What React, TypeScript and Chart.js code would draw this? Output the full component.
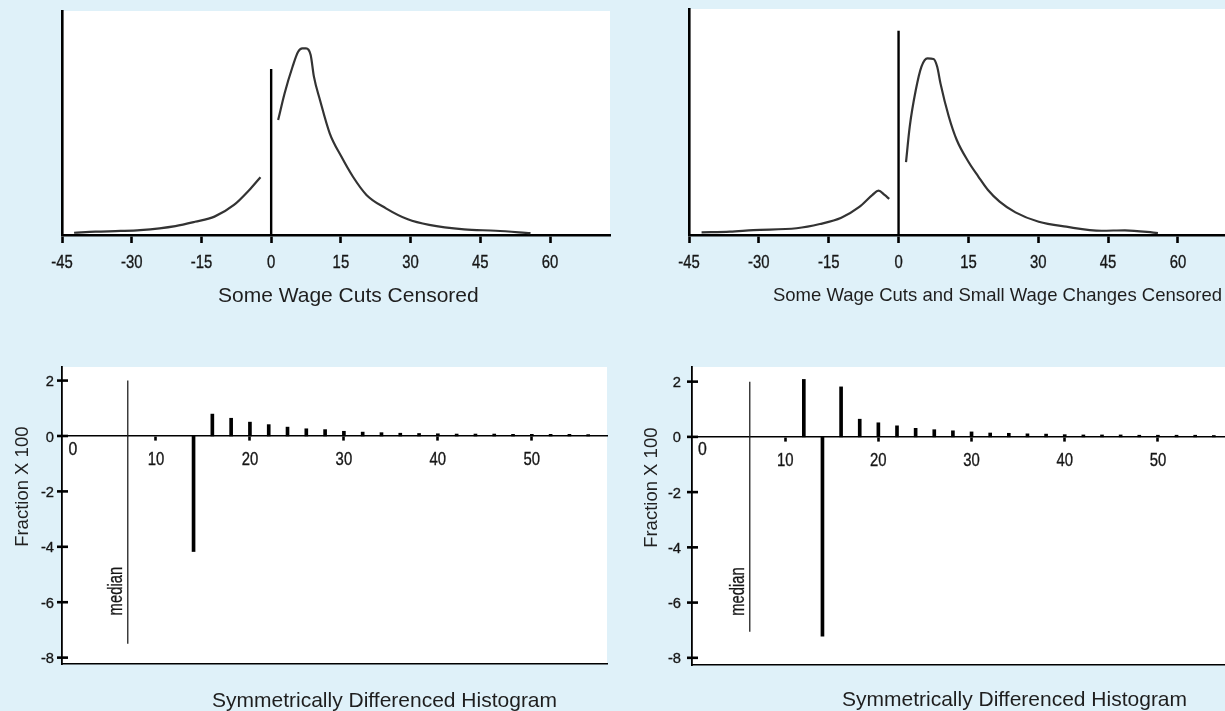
import React, { useEffect, useRef } from "react";
import { Chart, registerables } from "chart.js";

Chart.register(...registerables);

// ---------------- data ----------------
const topTickLabels = [-45, -30, -15, 0, 15, 30, 45, 60];
const bottomTickLabels = [10, 20, 30, 40, 50];
const bottomYTicks = [-8, -6, -4, -2, 0, 2];

// Panel A: Some Wage Cuts Censored (density, arbitrary units)
const cutsLeftX = [-42.4, -37.8, -32.4, -28.2, -20.6, -16.4, -12.2, -8.0, -4.7, -2.3];
const cutsLeftY = [0.1, 0.15, 0.18, 0.22, 0.4, 0.59, 0.82, 1.34, 2.01, 2.58];
const cutsRightX = [1.5, 2.9, 4.6, 5.8, 6.7, 7.5, 8.5, 9.2, 10.5, 12.6, 15.1, 17.6, 20.5, 24.7, 29.4, 34.0, 41.5, 48.3, 55.8];
const cutsRightY = [5.13, 6.33, 7.51, 8.18, 8.33, 8.33, 8.04, 7.07, 6.03, 4.54, 3.5, 2.6, 1.79, 1.19, 0.7, 0.45, 0.25, 0.19, 0.08];
const cutsZeroLineTop = 7.41;

// Panel B: Some Wage Cuts and Small Wage Changes Censored
const smallLeftX = [-42.3, -36.2, -31.2, -21.9, -16.9, -12.3, -8.5, -5.6, -4.3, -3.0, -2.0];
const smallLeftY = [0.12, 0.15, 0.22, 0.3, 0.49, 0.77, 1.24, 1.79, 1.98, 1.79, 1.61];
const smallRightX = [1.6, 2.4, 3.7, 4.9, 6.2, 7.5, 8.3, 9.0, 10.8, 12.5, 15.0, 17.1, 19.2, 21.7, 25.1, 30.1, 36.0, 43.6, 48.6, 55.7];
const smallRightY = [3.25, 4.84, 6.47, 7.51, 7.89, 7.86, 7.51, 6.77, 5.28, 4.24, 3.27, 2.62, 2.01, 1.49, 1.01, 0.59, 0.37, 0.19, 0.21, 0.09];
const smallZeroLineTop = 9.12;

// Panel C / D: Symmetrically differenced histograms (Fraction x 100)
const diffLeftX = [14, 16, 18, 20, 22, 24, 26, 28, 30, 32, 34, 36, 38, 40, 42, 44, 46, 48, 50, 52, 54, 56];
const diffLeftY = [-4.17, 0.79, 0.64, 0.5, 0.41, 0.32, 0.26, 0.23, 0.17, 0.14, 0.12, 0.1, 0.09, 0.08, 0.07, 0.07, 0.07, 0.06, 0.06, 0.06, 0.06, 0.05];
const medianLeft = 7.0;
const medianLeftSpan = [2.0, -7.5];

const diffRightX = [12, 14, 16, 18, 20, 22, 24, 26, 28, 30, 32, 34, 36, 38, 40, 42, 44, 46, 48, 50, 52, 54, 56];
const diffRightY = [2.08, -7.22, 1.81, 0.64, 0.51, 0.4, 0.31, 0.26, 0.22, 0.18, 0.14, 0.13, 0.11, 0.1, 0.08, 0.07, 0.07, 0.07, 0.06, 0.06, 0.06, 0.06, 0.05];
const medianRight = 6.2;
const medianRightSpan = [2.0, -7.06];

// ---------------- styling helpers ----------------
const SANS = "'Liberation Sans', Arial, Helvetica, sans-serif";
const BG = "#dff1f9";
const INK = "#161616";

const toPts = (xs: number[], ys: number[]) => xs.map((x, i) => ({ x, y: ys[i] }));

const whiteArea = {
  id: "whiteArea",
  beforeDraw(chart: any) {
    const { ctx, chartArea: a } = chart;
    ctx.save();
    ctx.fillStyle = "#ffffff";
    ctx.fillRect(a.left, a.top, a.right - a.left, a.bottom - a.top);
    ctx.restore();
  },
};

function drawSqueezed(ctx: any, text: string, x: number, y: number, opt: any) {
  ctx.save();
  ctx.translate(x, y);
  ctx.rotate(((opt.rotation || 0) * Math.PI) / 180);
  ctx.scale(opt.sx || 1, 1);
  ctx.font = opt.font;
  ctx.fillStyle = opt.color || INK;
  ctx.textAlign = opt.align || "center";
  ctx.textBaseline = opt.baseline || "alphabetic";
  ctx.fillText(text, 0, 0);
  if (opt.stroke) {
    ctx.strokeStyle = opt.color || INK;
    ctx.lineWidth = opt.stroke;
    ctx.strokeText(text, 0, 0);
  }
  ctx.restore();
}

// draws tick labels (from the scales' own ticks) in a condensed face
const condensedTicks = {
  id: "condensedTicks",
  afterDraw(chart: any, _args: any, opts: any) {
    const { ctx, scales } = chart;
    for (const spec of (opts && opts.axes) || []) {
      const s = scales[spec.id];
      if (!s) continue;
      for (const t of s.ticks) {
        const label = String(t.value);
        let x: number;
        let y: number;
        if (s.axis === "x") {
          const base = spec.atZero ? scales.y.getPixelForValue(0) : s.top;
          x = s.getPixelForValue(t.value);
          y = base + spec.baseline;
        } else {
          const py = s.getPixelForValue(t.value);
          x = s.right - spec.gap;
          y = py + spec.baseline;
          if (spec.cross) {
            ctx.save();
            ctx.strokeStyle = "#000";
            ctx.lineWidth = spec.cross.width;
            ctx.beginPath();
            ctx.moveTo(s.right - spec.cross.out, py);
            ctx.lineTo(s.right + spec.cross.inn, py);
            ctx.stroke();
            ctx.restore();
          }
        }
        drawSqueezed(ctx, label, x, y, spec);
      }
    }
  },
};

const textLabels = {
  id: "textLabels",
  afterDraw(chart: any, _args: any, opts: any) {
    const items = (opts && opts.items) || [];
    const { ctx, scales, chartArea } = chart;
    for (const it of items) {
      let x = it.xValue !== undefined ? scales.x.getPixelForValue(it.xValue) : chartArea.left;
      let y = it.yValue !== undefined ? scales.y.getPixelForValue(it.yValue) : chartArea.top;
      drawSqueezed(ctx, it.text, x + (it.dx || 0), y + (it.dy || 0), it);
    }
  },
};

const numFont = `18.6px ${SANS}`;

function densityConfig(p: {
  leftX: number[]; leftY: number[]; rightX: number[]; rightY: number[];
  zeroTop: number; yMax: number; xMax: number; yWidth: number; padTop: number; padRight: number; xHeight: number;
}) {
  const curve = (xs: number[], ys: number[]) => ({
    data: toPts(xs, ys),
    borderColor: "#333333",
    borderWidth: 2.2,
    pointRadius: 0,
    tension: 0.35,
    cubicInterpolationMode: "monotone",
    fill: false,
  });
  return {
    type: "line",
    data: {
      datasets: [
        curve(p.leftX, p.leftY),
        curve(p.rightX, p.rightY),
        {
          data: [{ x: 0, y: 0 }, { x: 0, y: p.zeroTop }],
          borderColor: "#000",
          borderWidth: 2.4,
          pointRadius: 0,
          tension: 0,
          fill: false,
        },
      ],
    },
    options: {
      animation: false,
      responsive: false,
      events: [],
      layout: { padding: { top: p.padTop, right: p.padRight, left: 0, bottom: 0 } },
      plugins: {
        legend: { display: false },
        tooltip: { enabled: false },
        condensedTicks: {
          axes: [{ id: "x", baseline: 32.7, align: "center", font: numFont, sx: 0.8, stroke: 0.35 }],
        },
      },
      scales: {
        x: {
          type: "linear",
          min: -45,
          max: p.xMax,
          afterBuildTicks: (s: any) => {
            s.ticks = topTickLabels.map((v) => ({ value: v }));
          },
          afterFit: (s: any) => {
            s.height = p.xHeight;
          },
          ticks: { display: false },
          grid: { display: true, drawOnChartArea: false, drawTicks: true, tickLength: 8, tickWidth: 2.6, tickColor: "#000" },
          border: { display: true, color: "#000", width: 2.6 },
        },
        y: {
          type: "linear",
          min: 0,
          max: p.yMax,
          afterFit: (s: any) => {
            s.width = p.yWidth;
          },
          ticks: { display: false },
          grid: { display: false },
          border: { display: true, color: "#000", width: 2.6 },
        },
      },
    },
    plugins: [whiteArea, condensedTicks],
  };
}

function diffConfig(p: {
  xs: number[]; ys: number[]; median: number; medianSpan: number[];
  xMax: number; yMin: number; yMax: number; yWidth: number; padTop: number; padRight: number; padBottom: number;
  yLabelGap: number; zeroDx: number; zeroBase: number; fracDx: number; fracY: number; xBase: number;
}) {
  return {
    type: "bar",
    data: {
      datasets: [
        {
          type: "bar",
          data: toPts(p.xs, p.ys),
          backgroundColor: "#000",
          borderWidth: 0,
          barThickness: 3,
        },
        {
          type: "line",
          data: [{ x: p.median, y: p.medianSpan[0] }, { x: p.median, y: p.medianSpan[1] }],
          borderColor: "#222",
          borderWidth: 1.3,
          pointRadius: 0,
          tension: 0,
          fill: false,
        },
      ],
    },
    options: {
      animation: false,
      responsive: false,
      events: [],
      layout: { padding: { top: p.padTop, right: p.padRight, left: 0, bottom: p.padBottom } },
      plugins: {
        legend: { display: false },
        tooltip: { enabled: false },
        condensedTicks: {
          axes: [
            { id: "x", atZero: true, baseline: p.xBase, align: "center", font: numFont, sx: 0.8, stroke: 0.35 },
            { id: "y", gap: p.yLabelGap, baseline: 5.6, align: "right", font: `15.5px ${SANS}`, sx: 0.95, stroke: 0.3, cross: { out: 5, inn: 6, width: 2.6 } },
          ],
        },
        textLabels: {
          items: [
            { text: "0", xValue: 0, yValue: 0, dx: p.zeroDx, dy: p.zeroBase, font: numFont, sx: 0.85, stroke: 0.35 },
            { text: "median", xValue: p.median, yValue: -5.6, dx: -6, rotation: -90, font: `19.5px ${SANS}`, sx: 0.76, stroke: 0.3 },
            { text: "Fraction X 100", yValue: p.fracY, dx: p.fracDx, rotation: -90, font: `18.5px ${SANS}`, color: "#222" },
          ],
        },
      },
      scales: {
        x: {
          type: "linear",
          position: { y: 0 },
          min: 0,
          max: p.xMax,
          offset: false,
          afterBuildTicks: (s: any) => {
            s.ticks = bottomTickLabels.map((v) => ({ value: v }));
          },
          afterFit: (s: any) => {
            s.height = 0;
          },
          ticks: { display: false },
          grid: { display: true, offset: false, drawOnChartArea: false, drawTicks: true, tickLength: 4, tickWidth: 2.6, tickColor: "#000" },
          border: { display: true, color: "#000", width: 1.6 },
        },
        x2: {
          type: "linear",
          position: "bottom",
          min: 0,
          max: p.xMax,
          afterFit: (s: any) => {
            s.height = 0;
          },
          ticks: { display: false },
          grid: { display: false },
          border: { display: true, color: "#000", width: 1.6 },
        },
        y: {
          type: "linear",
          min: p.yMin,
          max: p.yMax,
          afterBuildTicks: (s: any) => {
            s.ticks = bottomYTicks.map((v) => ({ value: v }));
          },
          afterFit: (s: any) => {
            s.width = p.yWidth;
          },
          ticks: { display: false },
          grid: { display: false },
          border: { display: true, color: "#000", width: 1.8 },
        },
      },
    },
    plugins: [whiteArea, condensedTicks, textLabels],
  };
}

function ChartBox({ config, left, top, width, height }: { config: any; left: number; top: number; width: number; height: number }) {
  const ref = useRef<HTMLCanvasElement | null>(null);
  useEffect(() => {
    if (!ref.current) return;
    const chart = new Chart(ref.current, config);
    return () => chart.destroy();
  }, [config]);
  return (
    <canvas
      ref={ref}
      width={width}
      height={height}
      style={{ position: "absolute", left, top, width, height, display: "block" }}
    />
  );
}

const configA = densityConfig({
  leftX: cutsLeftX, leftY: cutsLeftY, rightX: cutsRightX, rightY: cutsRightY,
  zeroTop: cutsZeroLineTop, yMax: 10, xMax: 72.9, yWidth: 62, padTop: 11, padRight: 2, xHeight: 55,
});
const configB = densityConfig({
  leftX: smallLeftX, leftY: smallLeftY, rightX: smallRightX, rightY: smallRightY,
  zeroTop: smallZeroLineTop, yMax: 10.09, xMax: 70.1, yWidth: 77, padTop: 9, padRight: 0, xHeight: 55,
});
const configC = diffConfig({
  xs: diffLeftX, ys: diffLeftY, median: medianLeft, medianSpan: medianLeftSpan,
  xMax: 58.0, yMin: -8.23, yMax: 2.49, yWidth: 62, padTop: 12, padRight: 5, padBottom: 47,
  yLabelGap: 8, zeroDx: 11, zeroBase: 19, fracDx: -34, fracY: -1.83, xBase: 29,
});
const configD = diffConfig({
  xs: diffRightX, ys: diffRightY, median: medianRight, medianSpan: medianRightSpan,
  xMax: 57.2, yMin: -8.26, yMax: 2.53, yWidth: 80, padTop: 12, padRight: 0, padBottom: 46,
  yLabelGap: 11, zeroDx: 10.5, zeroBase: 18.5, fracDx: -35, fracY: -1.84, xBase: 29.3,
});

const captionStyle: React.CSSProperties = {
  position: "absolute",
  fontFamily: SANS,
  color: "#1e1e1e",
  lineHeight: 1,
  whiteSpace: "nowrap",
};

export default function App() {
  return (
    <div
      style={{
        position: "fixed",
        left: 0,
        top: 0,
        width: 1225,
        height: 711,
        background: BG,
        overflow: "hidden",
      }}
    >
      <ChartBox config={configA} left={0} top={0} width={612} height={290} />
      <ChartBox config={configB} left={612} top={0} width={613} height={290} />
      <ChartBox config={configC} left={0} top={355} width={612} height={356} />
      <ChartBox config={configD} left={612} top={355} width={613} height={356} />
      <div style={{ ...captionStyle, left: 218, top: 284, fontSize: 21 }}>Some Wage Cuts Censored</div>
      <div style={{ ...captionStyle, right: 3, top: 286, fontSize: 18.5, textAlign: "right" }}>
        Some Wage Cuts and Small Wage Changes Censored
      </div>
      <div style={{ ...captionStyle, left: 212, top: 689, fontSize: 21 }}>Symmetrically Differenced Histogram</div>
      <div style={{ ...captionStyle, left: 842, top: 688, fontSize: 21 }}>Symmetrically Differenced Histogram</div>
    </div>
  );
}
